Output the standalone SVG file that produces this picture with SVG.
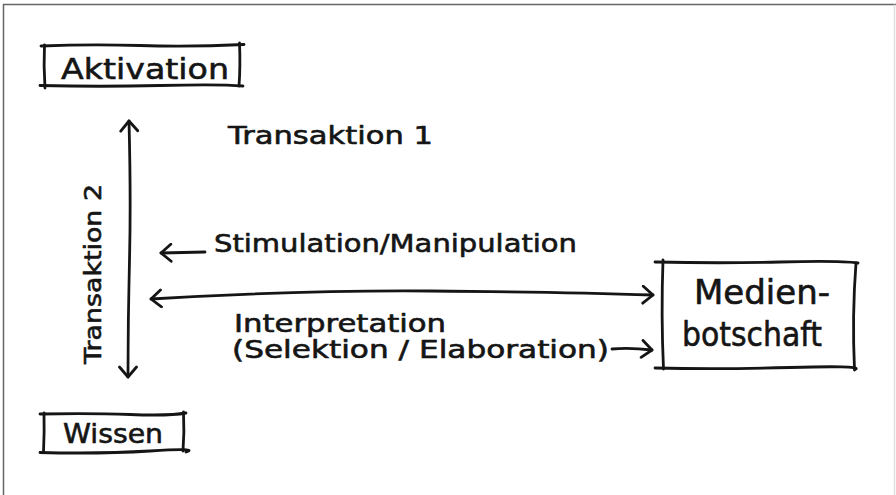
<svg xmlns="http://www.w3.org/2000/svg" width="896" height="495" viewBox="0 0 896 495">
  <style>
    .pen { fill: none; stroke: #151515; stroke-width: 2.8; stroke-linecap: round; stroke-linejoin: round; }
    .hand { font-family: "DejaVu Sans", "Noto Sans", sans-serif; fill: #151515; stroke: #151515; stroke-width: 0.6; stroke-linejoin: round; }
  </style>
  <defs>
    <marker id="head" viewBox="0 0 14 20" refX="12" refY="10" markerWidth="14" markerHeight="20" markerUnits="userSpaceOnUse" orient="auto-start-reverse">
      <path d="M2 1.5 L12 10 L2 18.5" fill="none" stroke="#151515" stroke-width="2.8" stroke-linecap="round" stroke-linejoin="round"/>
    </marker>
  </defs>

  <rect width="896" height="495" fill="#ffffff"/>
  <!-- frame -->
  <path d="M3.5 495 L3.5 4.5 L896 4.5" fill="none" stroke="#666" stroke-width="1.5"/>
  <path d="M894.5 4.5 L894.5 495" fill="none" stroke="#ddd" stroke-width="1.5"/>

  <!-- nodes -->
  <g id="aktivation">
    <path class="pen" d="M41 46 Q90 44 140 45.5 T244 44.5"/>
    <path class="pen" d="M40 85.5 Q100 87 160 85.5 T243 86"/>
    <path class="pen" d="M44.5 45 Q43.5 66 45 88"/>
    <path class="pen" d="M239.5 43 Q240.5 66 239 86"/>
    <text class="hand" x="61" y="79" font-size="29" textLength="168" lengthAdjust="spacingAndGlyphs">Aktivation</text>
  </g>

  <g id="wissen">
    <path class="pen" d="M40 414 Q90 413 130 414.5 T186 413"/>
    <path class="pen" d="M40 452.5 Q100 454 150 451 T186 452"/>
    <path class="pen" d="M44 413 Q44.5 432 43.5 452"/>
    <path class="pen" d="M183.5 412 Q184.5 432 183 451"/>
    <text class="hand" x="63" y="443" font-size="27" textLength="100" lengthAdjust="spacingAndGlyphs">Wissen</text>
  </g>

  <g id="medienbotschaft">
    <path class="pen" d="M655 262 Q720 263.5 780 262 T858 263"/>
    <path class="pen" d="M655 368 Q720 369.5 790 367.5 T856 369"/>
    <path class="pen" d="M663 260 Q661 315 663.5 369"/>
    <path class="pen" d="M856 263 Q852 315 854.5 370"/>
    <text class="hand" x="694" y="304" font-size="33" textLength="136" lengthAdjust="spacingAndGlyphs">Medien-</text>
    <text class="hand" x="682" y="346" font-size="33" textLength="140" lengthAdjust="spacingAndGlyphs">botschaft</text>
  </g>

  <!-- labels -->
  <g id="labels">
    <text class="hand" x="228" y="144" font-size="25" textLength="205" lengthAdjust="spacingAndGlyphs">Transaktion 1</text>
    <text class="hand" transform="translate(101 364) rotate(-90)" x="0" y="0" font-size="23" textLength="180" lengthAdjust="spacingAndGlyphs">Transaktion 2</text>
    <text class="hand" x="214" y="252" font-size="25" textLength="363" lengthAdjust="spacingAndGlyphs">Stimulation/Manipulation</text>
    <text class="hand" x="234" y="332" font-size="24" textLength="212" lengthAdjust="spacingAndGlyphs">Interpretation</text>
    <text class="hand" x="232" y="358" font-size="24" textLength="377" lengthAdjust="spacingAndGlyphs">(Selektion / Elaboration)</text>
  </g>

  <!-- connectors -->
  <g id="connectors">
    <path class="pen" d="M129 121 Q131 200 129.5 260 T128 377" marker-start="url(#head)" marker-end="url(#head)"/>
    <path class="pen" d="M205 252 L161 253" marker-end="url(#head)"/>
    <path class="pen" d="M151 299 Q300 290 430 291 T653 295" marker-start="url(#head)" marker-end="url(#head)"/>
    <path class="pen" d="M612 349 Q630 347.5 652 350" marker-end="url(#head)"/>
  </g>
</svg>
